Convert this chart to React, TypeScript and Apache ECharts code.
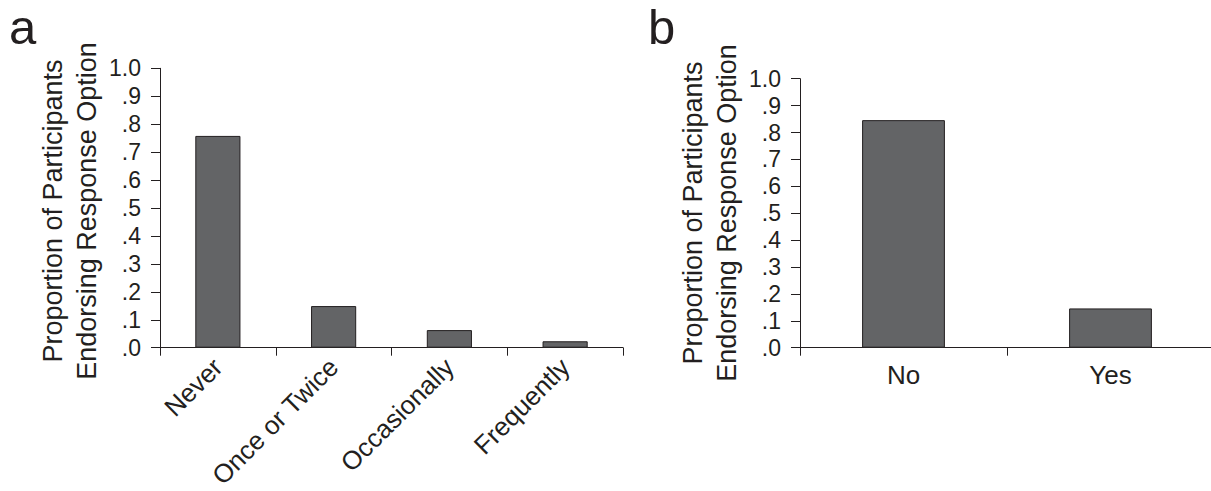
import React, { useEffect, useRef } from "react";
import * as echarts from "echarts";

const categoriesA = ["Never", "Once or Twice", "Occasionally", "Frequently"];
const valuesA = [0.758, 0.149, 0.063, 0.023];
const categoriesB = ["No", "Yes"];
const valuesB = [0.846, 0.146];
const yTickLabels = [".0", ".1", ".2", ".3", ".4", ".5", ".6", ".7", ".8", ".9", "1.0"];
const yTitleLines = ["Proportion of Participants", "Endorsing Response Option"];
const panelLetters = ["a", "b"];

const FONT = "'Liberation Sans', Arial, Helvetica, sans-serif";
const INK = "#231f20";
const BAR = "#636466";

export default function App() {
  const ref = useRef<HTMLDivElement>(null);
  useEffect(() => {
    if (!ref.current) return;
    const chart = echarts.init(ref.current, undefined, { renderer: "svg" });
    const yAxisBase = (gridIndex: number) => ({
      type: "value",
      gridIndex,
      min: 0,
      max: 1,
      interval: 0.1,
      splitLine: { show: false },
      axisLine: { show: true, lineStyle: { color: INK, width: 1 } },
      axisTick: { show: true, length: 9, inside: false, lineStyle: { color: INK, width: 1 } },
      axisLabel: {
        margin: 19,
        fontSize: 23,
        fontFamily: FONT,
        color: INK,
        formatter: (v: number) => yTickLabels[Math.round(v * 10)],
      },
    });
    const xAxisBase = (gridIndex: number, data: string[], rotate: number, fontSize: number, margin: number) => ({
      type: "category",
      gridIndex,
      data,
      axisLine: { show: true, lineStyle: { color: INK, width: 1 } },
      axisTick: { show: true, length: 8, alignWithLabel: false, lineStyle: { color: INK, width: 1 } },
      axisLabel: {
        rotate,
        margin,
        fontSize,
        fontFamily: FONT,
        color: INK,
        interval: 0,
      },
    });
    const titleText = (x: number, y: number) => ({
      type: "text",
      x,
      y,
      rotation: Math.PI / 2,
      style: {
        text: yTitleLines.join("\n"),
        fontSize: 27,
        lineHeight: 34,
        fontFamily: FONT,
        fill: INK,
        align: "center",
        verticalAlign: "middle",
      },
    });
    const letter = (x: number, text: string) => ({
      type: "text",
      x,
      y: 27,
      style: {
        text,
        fontSize: 49,
        lineHeight: 40,
        fontFamily: FONT,
        fill: INK,
        align: "left",
        verticalAlign: "middle",
      },
    });
    chart.setOption({
      animation: false,
      backgroundColor: "#ffffff",
      grid: [
        { left: 160, top: 68.3, width: 463, height: 279.4, containLabel: false, outerBoundsMode: "none" },
        { left: 800, top: 78.7, width: 414, height: 269, containLabel: false, outerBoundsMode: "none" },
      ],
      xAxis: [
        xAxisBase(0, categoriesA, 45, 26, 15),
        xAxisBase(1, categoriesB, 0, 26, 14),
      ],
      yAxis: [yAxisBase(0), yAxisBase(1)],
      series: [
        {
          type: "bar",
          xAxisIndex: 0,
          yAxisIndex: 0,
          data: valuesA,
          barWidth: "39%",
          itemStyle: { color: BAR, borderColor: INK, borderWidth: 1 },
        },
        {
          type: "bar",
          xAxisIndex: 1,
          yAxisIndex: 1,
          data: valuesB,
          barWidth: "40%",
          itemStyle: { color: BAR, borderColor: INK, borderWidth: 1 },
        },
      ],
      graphic: [
        titleText(70, 211),
        titleText(710, 213),
        letter(9, panelLetters[0]),
        letter(648, panelLetters[1]),
      ],
    });
    return () => chart.dispose();
  }, []);
  return (
    <div
      ref={ref}
      style={{ position: "fixed", left: 0, top: 0, width: 1211, height: 491 }}
    />
  );
}
